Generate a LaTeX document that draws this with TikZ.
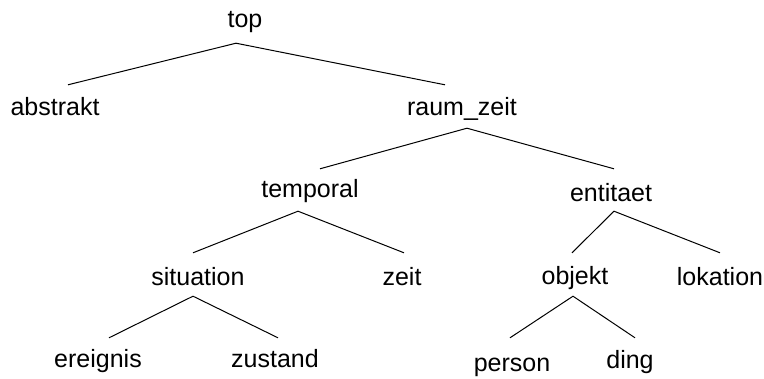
\documentclass[tikz,border=0pt]{standalone}
\usepackage{fontspec}
\setmainfont{Liberation Sans}
\begin{document}
\begin{tikzpicture}[x=1pt,y=-1pt,
  concept/.style={anchor=base,inner sep=0pt,text height=18pt,text depth=5pt,
    font=\fontsize{25}{30}\selectfont},
  branch/.style={draw=black,line width=1pt}]
\useasboundingbox (0,0) rectangle (764,378);
% concept hierarchy, one node per class
\node[concept] (top)       at (245,27)  {top};
\node[concept] (abstrakt)  at (55,115)  {abstrakt};
\node[concept] (raumzeit)  at (462,115) {raum\_zeit};
\node[concept] (temporal)  at (310,197) {temporal};
\node[concept] (entitaet)  at (611,201) {entitaet};
\node[concept] (situation) at (198,285) {situation};
\node[concept] (zeit)      at (402,285) {zeit};
\node[concept] (objekt)    at (575,284) {objekt};
\node[concept] (lokation)  at (720,285) {lokation};
\node[concept] (ereignis)  at (98,367)  {ereignis};
\node[concept] (zustand)   at (275,367) {zustand};
\node[concept] (person)    at (512,371) {person};
\node[concept] (ding)      at (630,368) {ding};
% subclass links
\draw[branch] ([shift={(13,-12)}]abstrakt.north) -- ([shift={(-9,11)}]top.south)
              -- ([shift={(-17,-12)}]raumzeit.north);
\draw[branch] ([shift={(10,-10)}]temporal.north) -- ([shift={(5,8)}]raumzeit.south)
              -- ([shift={(3,-14)}]entitaet.north);
\draw[branch] ([shift={(-5,-14)}]situation.north) -- ([shift={(-12,9)}]temporal.south)
              -- ([shift={(2,-14)}]zeit.north);
\draw[branch] ([shift={(-3,-13)}]objekt.north) -- ([shift={(3,5)}]entitaet.south)
              -- ([shift={(0,-14)}]lokation.north);
\draw[branch] ([shift={(11,-11)}]ereignis.north) -- ([shift={(-5,6)}]situation.south)
              -- ([shift={(3,-11)}]zustand.north);
\draw[branch] ([shift={(-2,-15)}]person.north) -- ([shift={(-2,7)}]objekt.south)
              -- ([shift={(5,-12)}]ding.north);
\end{tikzpicture}
\end{document}
